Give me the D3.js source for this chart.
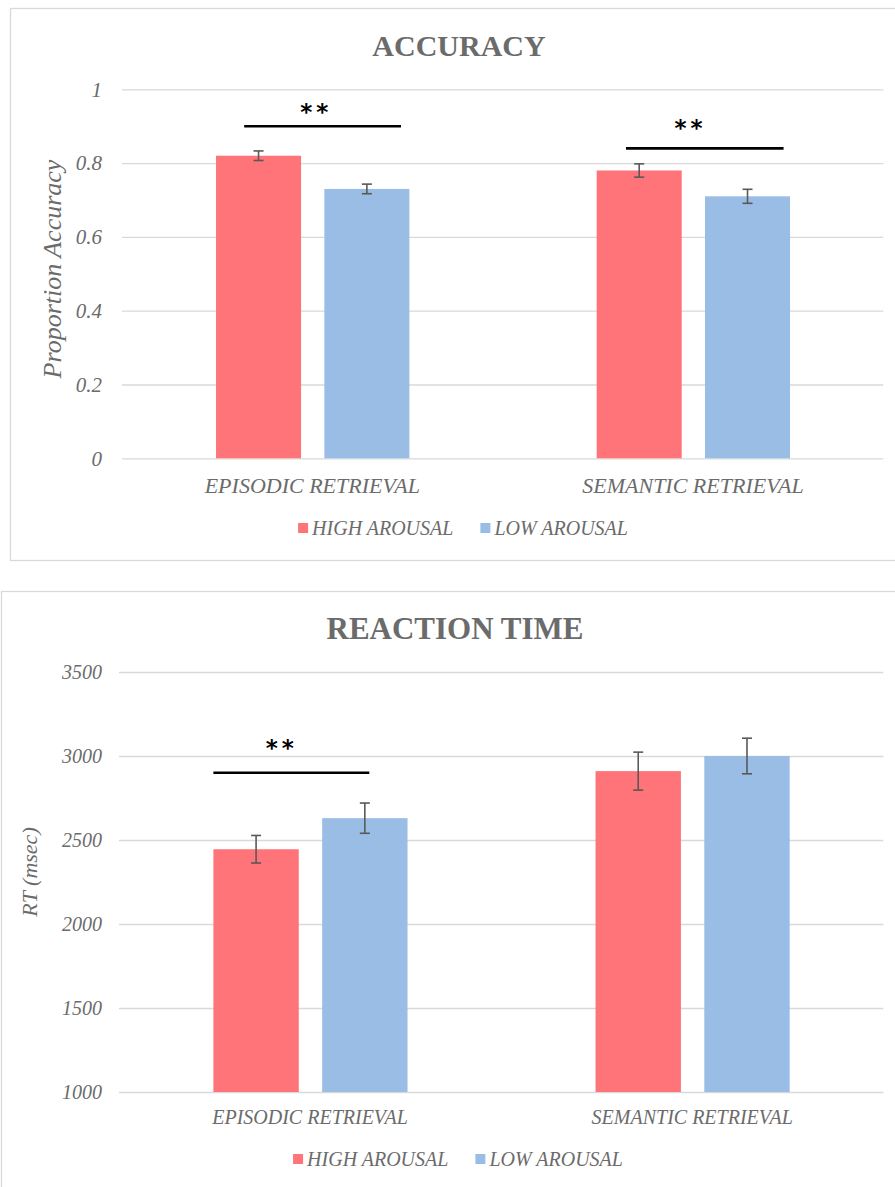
<!DOCTYPE html>
<html>
<head>
<meta charset="utf-8">
<script src="https://cdn.jsdelivr.net/npm/d3@7"></script>
<style>
  body { margin: 0; background: #fff; }
  svg { display: block; }
</style>
</head>
<body>
<svg id="chart" width="895" height="1187"></svg>
<script>
// categories and series
var categories = ["EPISODIC RETRIEVAL", "SEMANTIC RETRIEVAL"];
var seriesNames = ["HIGH AROUSAL", "LOW AROUSAL"];

// proportion accuracy (mean, error)
var accHigh = [0.82, 0.78];
var accHighErr = [0.013, 0.018];
var accLow = [0.73, 0.71];
var accLowErr = [0.013, 0.019];
var accTicks = [0, 0.2, 0.4, 0.6, 0.8, 1];
var accTickLabels = ["0", "0.2", "0.4", "0.6", "0.8", "1"];
// significance: category index + bracket level
var accSig = [{cat: 0, level: 0.9, label: "**"}, {cat: 1, level: 0.84, label: "**"}];

// reaction time in msec (mean, error)
var rtHigh = [2445, 2910];
var rtHighErr = [82, 113];
var rtLow = [2630, 3000];
var rtLowErr = [90, 106];
var rtTicks = [1000, 1500, 2000, 2500, 3000, 3500];
var rtTickLabels = ["1000", "1500", "2000", "2500", "3000", "3500"];
var rtSig = [{cat: 0, level: 2900, label: "**"}];

var colors = ["#FF7479", "#9ABDE6"];
var grey = "#6b6b6b";
var SERIF = '"Liberation Serif", "Times New Roman", serif';

var svg = d3.select("#chart");
svg.append("rect").attr("width", 895).attr("height", 1187).attr("fill", "#fff");

function drawChart(o) {
  var g = svg.append("g");

  // outer frame of the chart area
  g.append("rect")
    .attr("x", o.box[0]).attr("y", o.box[1])
    .attr("width", o.box[2]).attr("height", o.box[3])
    .attr("fill", "none").attr("stroke", "#d9d9d9").attr("stroke-width", 1.3);

  var x0 = d3.scaleBand().domain(categories).range([o.left, o.right]);
  var bw = x0.bandwidth();
  var x1 = d3.scaleBand().domain(seriesNames)
    .range([bw * 0.247, bw * 0.755]).paddingInner(0.215);
  var y = d3.scaleLinear().domain(o.domain).range([o.bottom, o.top]);

  // gridlines + tick labels
  var yAxis = d3.axisLeft(y)
    .tickValues(o.ticks)
    .tickFormat(function(d, i) { return o.tickLabels[i]; })
    .tickSize(-(o.right - o.left))
    .tickPadding(o.tickPad);
  var ax = g.append("g").attr("transform", "translate(" + o.left + ",0)").call(yAxis);
  ax.select(".domain").remove();
  ax.selectAll(".tick line").attr("stroke", "#d9d9d9").attr("stroke-width", 1.3);
  ax.selectAll(".tick text")
    .attr("fill", grey)
    .style("font-family", SERIF)
    .style("font-style", "italic")
    .style("font-size", o.tickFont + "px");

  // bars
  var rows = categories.map(function(c, i) {
    return [
      {cat: c, s: seriesNames[0], v: o.high[i], e: o.highErr[i], color: colors[0]},
      {cat: c, s: seriesNames[1], v: o.low[i], e: o.lowErr[i], color: colors[1]}
    ];
  });
  var flat = d3.merge(rows);

  g.selectAll("rect.bar").data(flat).enter().append("rect")
    .attr("class", "bar")
    .attr("x", function(d) { return x0(d.cat) + x1(d.s); })
    .attr("y", function(d) { return y(d.v); })
    .attr("width", x1.bandwidth())
    .attr("height", function(d) { return y(o.domain[0]) - y(d.v); })
    .attr("fill", function(d) { return d.color; });

  // error bars
  var eb = g.selectAll("g.err").data(flat).enter().append("g")
    .attr("class", "err")
    .attr("stroke", "#595959").attr("stroke-width", 1.6);
  function cx(d) { return x0(d.cat) + x1(d.s) + x1.bandwidth() / 2; }
  eb.append("line")
    .attr("x1", cx).attr("x2", cx)
    .attr("y1", function(d) { return y(d.v + d.e); })
    .attr("y2", function(d) { return y(d.v - d.e); });
  eb.append("line")
    .attr("x1", function(d) { return cx(d) - 5; }).attr("x2", function(d) { return cx(d) + 5; })
    .attr("y1", function(d) { return y(d.v + d.e); }).attr("y2", function(d) { return y(d.v + d.e); });
  eb.append("line")
    .attr("x1", function(d) { return cx(d) - 5; }).attr("x2", function(d) { return cx(d) + 5; })
    .attr("y1", function(d) { return y(d.v - d.e); }).attr("y2", function(d) { return y(d.v - d.e); });

  // significance brackets
  o.sig.forEach(function(s, i) {
    var c = categories[s.cat];
    var span = o.sigSpan[i];
    var xa = x0(c) + bw * span[0], xb = x0(c) + bw * span[1];
    g.append("line")
      .attr("x1", xa).attr("x2", xb)
      .attr("y1", y(s.level)).attr("y2", y(s.level))
      .attr("stroke", "#000").attr("stroke-width", 2.6);
    g.append("text")
      .attr("x", x0(c) + bw * span[2] + 2)
      .attr("y", y(s.level) - span[3])
      .attr("text-anchor", "middle")
      .style("font-family", '"DejaVu Sans", sans-serif')
      .style("font-weight", "bold")
      .style("font-size", "23px")
      .style("letter-spacing", "4px")
      .attr("fill", "#000")
      .text(s.label);
  });

  // category labels
  g.selectAll("text.cat").data(categories).enter().append("text")
    .attr("class", "cat")
    .attr("x", function(d) { return x0(d) + bw / 2; })
    .attr("y", o.catY)
    .attr("text-anchor", "middle")
    .style("font-family", SERIF)
    .style("font-style", "italic")
    .style("font-size", o.catFont + "px")
    .attr("fill", grey)
    .text(function(d) { return d; });

  // title
  g.append("text")
    .attr("x", o.titleX).attr("y", o.titleY)
    .attr("text-anchor", "middle")
    .style("font-family", SERIF)
    .style("font-weight", "bold")
    .style("font-size", o.titleFont + "px")
    .attr("fill", grey)
    .text(o.title);

  // y axis title
  g.append("text")
    .attr("transform", "translate(" + o.yTitle[0] + "," + o.yTitle[1] + ") rotate(-90)")
    .attr("text-anchor", "middle")
    .attr("dy", "0.35em")
    .style("font-family", SERIF)
    .style("font-style", "italic")
    .style("font-size", o.yTitleFont + "px")
    .attr("fill", grey)
    .text(o.yLabel);

  // legend
  var leg = g.append("g");
  var items = leg.selectAll("g").data(seriesNames).enter().append("g");
  items.append("rect")
    .attr("y", o.legY - 12).attr("width", 10).attr("height", 10)
    .attr("fill", function(d, i) { return colors[i]; });
  items.append("text")
    .attr("x", 14).attr("y", o.legY)
    .style("font-family", SERIF)
    .style("font-style", "italic")
    .style("font-size", "20px")
    .attr("fill", grey)
    .text(function(d) { return d; });
  var widths = [];
  items.each(function() { widths.push(d3.select(this).select("text").node().getComputedTextLength() + 14); });
  var gap = 27;
  var total = d3.sum(widths) + gap;
  var start = o.legX - total / 2;
  items.attr("transform", function(d, i) {
    return "translate(" + (i === 0 ? start : start + widths[0] + gap) + ",0)";
  });
}

drawChart({
  box: [10.5, 8.5, 900, 552],
  left: 122, right: 883.3, top: 89.3, bottom: 458.3,
  domain: [0, 1], ticks: accTicks, tickLabels: accTickLabels,
  tickPad: 20, tickFont: 21,
  high: accHigh, highErr: accHighErr, low: accLow, lowErr: accLowErr,
  sig: accSig, sigSpan: [[0.321, 0.733, 0.505, 6], [0.324, 0.738, 0.488, 12]],
  catY: 493, catFont: 22,
  title: "ACCURACY", titleX: 459, titleY: 55.5, titleFont: 30,
  yLabel: "Proportion Accuracy", yTitle: [52, 269], yTitleFont: 26,
  legX: 463, legY: 535
});

drawChart({
  box: [1.5, 591.5, 910, 620],
  left: 119, right: 883.3, top: 672, bottom: 1092,
  domain: [1000, 3500], ticks: rtTicks, tickLabels: rtTickLabels,
  tickPad: 17, tickFont: 20,
  high: rtHigh, highErr: rtHighErr, low: rtLow, lowErr: rtLowErr,
  sig: rtSig, sigSpan: [[0.247, 0.655, 0.421, 17]],
  catY: 1123.5, catFont: 20,
  title: "REACTION TIME", titleX: 455, titleY: 638.5, titleFont: 31,
  yLabel: "RT (msec)", yTitle: [29, 872], yTitleFont: 22,
  legX: 458, legY: 1166
});
</script>
</body>
</html>
